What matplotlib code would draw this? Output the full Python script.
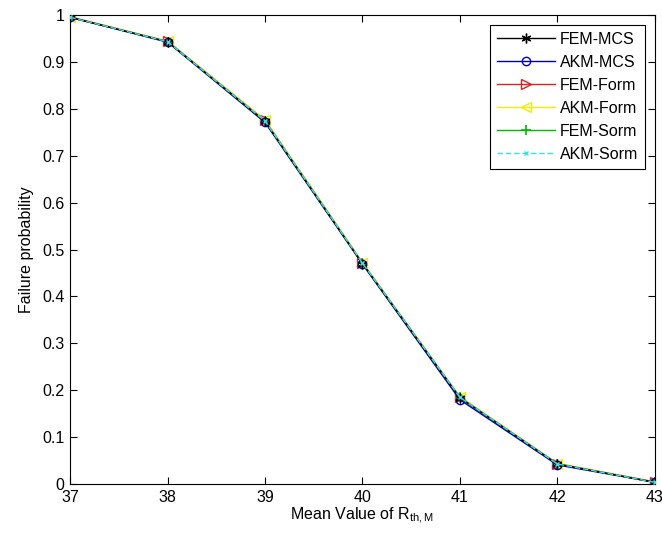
import numpy as np
import matplotlib.pyplot as plt

plt.rcParams['font.family'] = ['Liberation Sans', 'DejaVu Sans']

mean_r = [37, 38, 39, 40, 41, 42, 43]
fem_mcs = [0.995, 0.943, 0.773, 0.470, 0.184, 0.043, 0.004]
akm_mcs = [0.995, 0.942, 0.771, 0.469, 0.180, 0.041, 0.004]
fem_form = [0.996, 0.944, 0.776, 0.472, 0.186, 0.044, 0.005]
akm_form = [0.996, 0.944, 0.776, 0.472, 0.186, 0.044, 0.005]
fem_sorm = [0.995, 0.943, 0.774, 0.471, 0.185, 0.043, 0.004]
akm_sorm = [0.995, 0.943, 0.774, 0.471, 0.185, 0.043, 0.004]

fig = plt.figure(figsize=(6.62, 5.35), dpi=100)
ax = fig.add_axes([0.106, 0.095, 0.883, 0.877])

# lower zorder for the coloured ones so black/cyan stay visible like the original
ax.plot(mean_r, fem_mcs, color='black', marker=(6, 2, 0), markersize=7, lw=1, zorder=5, label='FEM-MCS')
ax.plot(mean_r, akm_mcs, color='#0000bb', marker='o', markersize=6, mfc='none', lw=1, zorder=4, label='AKM-MCS')
ax.plot(mean_r, fem_form, color='#dd2020', marker='>', markersize=7, mfc='none', lw=1, zorder=2, label='FEM-Form')
ax.plot(mean_r, akm_form, color='#eeee00', marker='<', markersize=7, mfc='none', lw=1, zorder=2, label='AKM-Form')
ax.plot(mean_r, fem_sorm, color='#00bb00', marker='+', markersize=7, mew=1.2, lw=1, zorder=3, label='FEM-Sorm')
ax.plot(mean_r, akm_sorm, color='#40e0e0', marker='x', markersize=3, lw=1, dashes=(4, 2), zorder=6, label='AKM-Sorm')

ax.set_xlim(37, 43)
ax.set_ylim(0, 1)
ax.set_xticks(mean_r)
ax.set_yticks(np.arange(0, 1.01, 0.1))
ax.set_yticklabels(['0', '0.1', '0.2', '0.3', '0.4', '0.5', '0.6', '0.7', '0.8', '0.9', '1'])
ax.tick_params(direction='in', top=True, right=True, labelsize=11.5, length=5, pad=4)
ax.set_xlabel('Mean Value of R$_{\\mathregular{th,M}}$', fontsize=11.5, labelpad=1)
ax.set_ylabel('Failure probability', fontsize=11.5, labelpad=6)

leg = ax.legend(loc='upper right', fontsize=11.5, fancybox=False, framealpha=1,
                edgecolor='black', handlelength=3.6, borderaxespad=0.6,
                labelspacing=0.5, handletextpad=0.3, borderpad=0.45)
leg.get_frame().set_linewidth(0.8)

fig.savefig('out.png', dpi=100)
